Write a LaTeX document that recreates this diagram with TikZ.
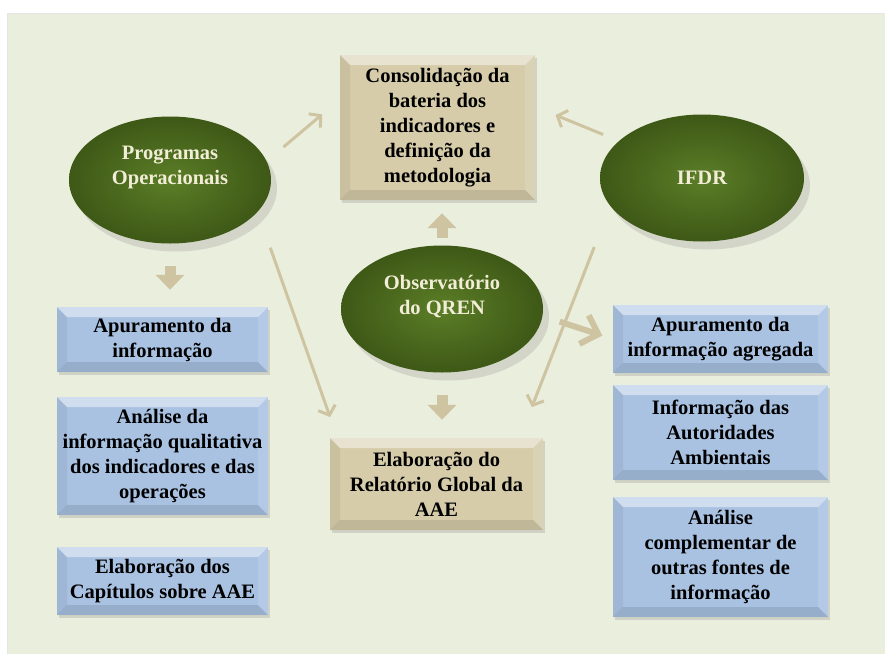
\documentclass[tikz,border=0pt]{standalone}
\usepackage{fontspec}
\setmainfont{Liberation Serif}
\usetikzlibrary{shapes.geometric,shadows,arrows.meta}

\definecolor{panelbg}{HTML}{EAEEDD}
\definecolor{tanfill}{HTML}{D6CCAA}
\definecolor{bluefill}{HTML}{A9C2E2}
\definecolor{olivein}{HTML}{5B7E27}
\definecolor{oliveout}{HTML}{3E5816}
\definecolor{ovaltext}{HTML}{F2EDD6}
\definecolor{arrowtan}{HTML}{CFC4A2}

\newcommand\labfont{\fontsize{20.5pt}{25pt}\selectfont\bfseries}

\tikzset{
  bevel/.style={path picture={
    \fill[white,opacity=.45] (path picture bounding box.north west) -- (path picture bounding box.north east)
      -- ([xshift=-#1,yshift=-#1]path picture bounding box.north east) -- ([xshift=#1,yshift=-#1]path picture bounding box.north west) -- cycle;
    \fill[black,opacity=.06] (path picture bounding box.north west) -- (path picture bounding box.south west)
      -- ([xshift=#1,yshift=#1]path picture bounding box.south west) -- ([xshift=#1,yshift=-#1]path picture bounding box.north west) -- cycle;
    \fill[white,opacity=.12] (path picture bounding box.north east) -- (path picture bounding box.south east)
      -- ([xshift=-#1,yshift=#1]path picture bounding box.south east) -- ([xshift=-#1,yshift=-#1]path picture bounding box.north east) -- cycle;
    \fill[black,opacity=.10] (path picture bounding box.south west) -- (path picture bounding box.south east)
      -- ([xshift=-#1,yshift=#1]path picture bounding box.south east) -- ([xshift=#1,yshift=#1]path picture bounding box.south west) -- cycle;
  }},
  bevel/.default=10pt
}

\begin{document}
\begin{tikzpicture}[x=1pt,y=-1pt,
  box/.style={rectangle,inner sep=0pt,align=center,font=\labfont,bevel,
    drop shadow={shadow xshift=2pt,shadow yshift=-3pt,opacity=.25}},
  tanbox/.style={box,fill=tanfill},
  bluebox/.style={box,fill=bluefill},
  oval/.style={ellipse,inner sep=0pt,minimum width=202pt,minimum height=127pt,
    align=center,font=\labfont,text=ovaltext,shading=radial,inner color=olivein,outer color=oliveout,
    drop shadow={shadow xshift=6pt,shadow yshift=-8pt,opacity=.22}},
  thinarr/.style={draw=arrowtan,line width=3pt,-{Straight Barb[length=8pt,width=18pt]}},
  blockarr/.style={draw=arrowtan,line width=11pt,-{Triangle[length=15pt,width=28pt]}},
  widearr/.style={draw=arrowtan,line width=6pt,-{Straight Barb[length=15pt,width=30pt]}}]
  \useasboundingbox (0,0) rectangle (885,653);
  \fill[white] (0,0) rectangle (885,653);
  \fill[panelbg,draw=black!10] (7,13) rectangle (890,660);

  % centre column
  \node[tanbox,minimum width=195pt,minimum height=145pt] (cons) at (437.5,127.5)
    {Consolidação da\\bateria dos\\indicadores e\\definição da\\metodologia};
  \node[oval] (obs) at (442,309) {Observatório\\do QREN\\[-4pt]\strut};
  \node[tanbox,minimum width=213pt,minimum height=92pt] (elab) at (436.5,484)
    {Elaboração do\\Relatório Global da\\AAE};

  % the two ovals
  \node[oval] (prog) at (170,180) {Programas\\Operacionais\\[-4pt]\strut};
  \node[oval,minimum width=204pt] (ifdr) at (702,178) {IFDR};

  % left column
  \node[bluebox,minimum width=211pt,minimum height=65pt] (lapu) at (162.5,339.5)
    {Apuramento da\\informação};
  \node[bluebox,minimum width=211pt,minimum height=118pt] (lana) at (162.5,456)
    {Análise da\\informação qualitativa\\dos indicadores e das\\operações};
  \node[bluebox,minimum width=211pt,minimum height=68pt] (lcap) at (162.5,581)
    {Elaboração dos\\Capítulos sobre AAE};

  % right column
  \node[bluebox,minimum width=215pt,minimum height=68pt] (rapu) at (720.5,339)
    {Apuramento da\\informação agregada};
  \node[bluebox,minimum width=215pt,minimum height=95pt] (raut) at (720.5,432.5)
    {Informação das\\Autoridades\\Ambientais};
  \node[bluebox,minimum width=215pt,minimum height=120pt] (rana) at (720.5,557)
    {Análise\\complementar de\\outras fontes de\\informação};

  % arrows
  \draw[thinarr,shorten <=22pt,shorten >=23pt] (prog.11) -- (cons.164);
  \draw[thinarr,shorten <=17pt,shorten >=22pt] (ifdr.156) -- (cons.12);
  \draw[thinarr,shorten <=38pt,shorten >=22pt] (prog.-20) -- (elab.155);
  \draw[thinarr,shorten <=44pt,shorten >=33pt] (ifdr.197) -- (elab.29);
  \draw[blockarr,shorten <=7pt,shorten >=13pt] (obs.north) -- (obs.north |- cons.south);
  \draw[blockarr,shorten <=22pt,shorten >=17pt] (prog.south) -- (prog.south |- lapu.north);
  \draw[blockarr,shorten <=22pt,shorten >=18pt] (obs.south) -- (obs.south |- elab.north);
  \draw[widearr,shorten <=18pt,shorten >=11pt] (obs.-4) -- (rapu.west);
\end{tikzpicture}
\end{document}
